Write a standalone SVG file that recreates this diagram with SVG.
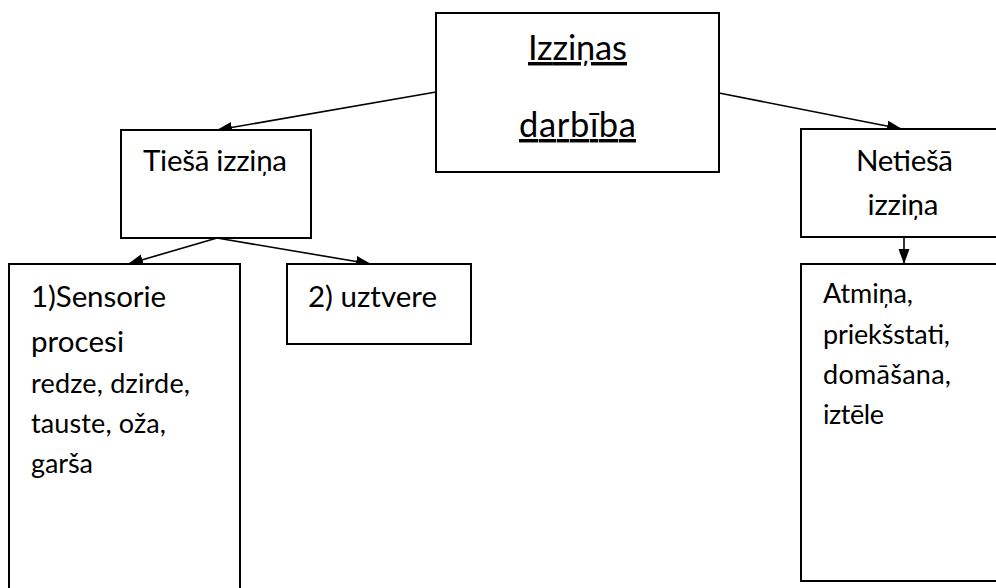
<svg xmlns="http://www.w3.org/2000/svg" width="996" height="588" viewBox="0 0 996 588">
  <style>
    .box { fill: #ffffff; stroke: #000000; stroke-width: 2; }
    .t { font-family: Lato, "Open Sans", "Liberation Sans", sans-serif; fill: #000000; }
    .t12 { font-size: 29.5px; }
    .t11 { font-size: 27px; }
    .t14 { font-size: 34.5px; text-decoration: underline; }
    .edge { stroke: #000000; stroke-width: 1.6; fill: none; marker-end: url(#arrow); }
  </style>
  <defs>
    <marker id="arrow" markerUnits="userSpaceOnUse" markerWidth="16" markerHeight="12" refX="15" refY="6" orient="auto">
      <path d="M0,0.5 L15,6 L0,11.5 Z" fill="#000000"/>
    </marker>
  </defs>
  <rect width="996" height="588" fill="#ffffff"/>

  <g id="connectors">
    <line class="edge" x1="436" y1="92" x2="217" y2="130"/>
    <line class="edge" x1="719" y1="93" x2="902" y2="129"/>
    <line class="edge" x1="217" y1="238" x2="128" y2="264"/>
    <line class="edge" x1="217" y1="238" x2="371" y2="264"/>
    <line class="edge" x1="904" y1="237" x2="904" y2="264"/>
  </g>

  <g id="node-izzinas-darbiba">
    <rect class="box" x="436" y="13" width="283" height="159"/>
    <text class="t t14" x="577.5" y="60" text-anchor="middle" textLength="99">Izziņas</text>
    <text class="t t14" x="577.5" y="137" text-anchor="middle" textLength="117">darbība</text>
  </g>

  <g id="node-tiesa-izzina">
    <rect class="box" x="121" y="130" width="190" height="108"/>
    <text class="t t12" x="143" y="171" textLength="144">Tiešā izziņa</text>
  </g>

  <g id="node-netiesa-izzina">
    <rect class="box" x="801" y="129" width="230" height="108"/>
    <text class="t t12" x="904.5" y="171" text-anchor="middle" textLength="97">Netiešā</text>
    <text class="t t12" x="903" y="215" text-anchor="middle" textLength="71">izziņa</text>
  </g>

  <g id="node-sensorie-procesi">
    <rect class="box" x="9" y="264" width="231" height="340"/>
    <text class="t t12" x="31" y="307" textLength="135">1)Sensorie</text>
    <text class="t t12" x="31" y="352" textLength="93">procesi</text>
    <text class="t t11" x="31" y="393" textLength="159">redze, dzirde,</text>
    <text class="t t11" x="31" y="433" textLength="135">tauste, oža,</text>
    <text class="t t11" x="31" y="473" textLength="62">garša</text>
  </g>

  <g id="node-uztvere">
    <rect class="box" x="287" y="264" width="184" height="80"/>
    <text class="t t12" x="308" y="307" textLength="129">2) uztvere</text>
  </g>

  <g id="node-atmina">
    <rect class="box" x="801" y="264" width="230" height="317"/>
    <text class="t t11" x="823" y="303" textLength="90">Atmiņa,</text>
    <text class="t t11" x="823" y="344" textLength="127">priekšstati,</text>
    <text class="t t11" x="823" y="384" textLength="128">domāšana,</text>
    <text class="t t11" x="823" y="424" textLength="61">iztēle</text>
  </g>
</svg>
